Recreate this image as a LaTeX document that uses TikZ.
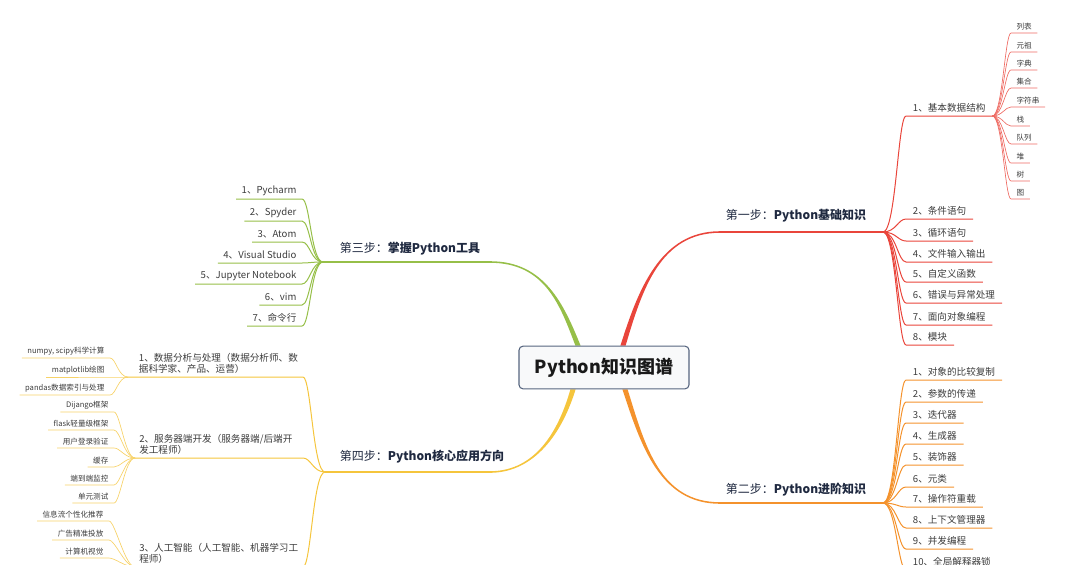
\documentclass[tikz,border=0pt]{standalone}
\usepackage{fontspec}
\setmainfont{Noto Sans CJK SC}
\usetikzlibrary{calc}
\definecolor{cR}{HTML}{E9453B}
\definecolor{cRl}{HTML}{EE6A62}
\definecolor{cO}{HTML}{F4922C}
\definecolor{cOl}{HTML}{F6A24A}
\definecolor{cG}{HTML}{96BF48}
\definecolor{cGl}{HTML}{A9CC66}
\definecolor{cY}{HTML}{F5C53C}
\definecolor{cYl}{HTML}{F7D268}
\definecolor{tx}{HTML}{3C3C3C}
\definecolor{nv}{HTML}{1F2940}
\definecolor{bx}{HTML}{56657F}
\newcommand\taper[6]{%
  \fill[#1] ($(#2)+(-2.6,0)$) .. controls ($(#3)+(-2,0)$) and ($(#4)+(0,-0.8*#6)$) .. ($(#5)+(0,-0.8*#6)$)
    -- ($(#5)+(0,0.8*#6)$) .. controls ($(#4)+(0,0.8*#6)$) and ($(#3)+(2,0)$) .. ($(#2)+(2.6,0)$) -- cycle;}
\begin{document}
\begin{tikzpicture}[x=0.75pt,y=-0.75pt,
  item/.style={inner xsep=5pt,inner ysep=2.5pt,font=\fontsize{7.2}{8.5}\selectfont,text=tx},
  leaf/.style={inner xsep=4pt,inner ysep=2pt,font=\fontsize{5.7}{6.5}\selectfont,text=tx},
  lvl/.style={inner sep=0pt,font=\fontsize{9}{10}\selectfont,text=nv},
  ctr/.style={draw=bx,line width=0.8pt,fill=white!96!bx,rounded corners=3pt,
    minimum width=127.5pt,minimum height=32pt,font=\fontsize{13.5}{15}\selectfont\bfseries,text=black!90},
  mainline/.style={line width=1.1pt},
  subline/.style={line width=0.75pt},
  leafline/.style={line width=0.5pt}]
\useasboundingbox (0,0) rectangle (1080,564);
\clip (0,0) rectangle (1080,564);

% ---- centre node (placed first for anchors, redrawn on top later)
\node[ctr,draw=none,fill=none,text opacity=0] (c0) at (604,367.5) {Python知识图谱};

% ---- main branch coordinates
\coordinate (S1) at ($(c0.north)+(19,0)$);
\coordinate (C1a) at (640,290); \coordinate (C1b) at (660,232);
\coordinate (E1) at (720,232); \coordinate (h1) at (883,232);
\coordinate (S2) at ($(c0.south)+(21,0)$);
\coordinate (C2a) at (643,446); \coordinate (C2b) at (660,503);
\coordinate (E2) at (720,503); \coordinate (h2) at (883,503);
\coordinate (S3) at ($(c0.north)+(-26,0)$);
\coordinate (C3a) at (562,305); \coordinate (C3b) at (545,262);
\coordinate (E3) at (490,262); \coordinate (h3) at (323,262);
\coordinate (S4) at ($(c0.south)+(-31,0)$);
\coordinate (C4a) at (558,440); \coordinate (C4b) at (530,472);
\coordinate (E4) at (490,472); \coordinate (h4) at (325,472);

\taper{cR}{S1}{C1a}{C1b}{E1}{1}
\taper{cO}{S2}{C2a}{C2b}{E2}{-1}
\taper{cG}{S3}{C3a}{C3b}{E3}{-1}
\taper{cY}{S4}{C4a}{C4b}{E4}{1}
\draw[cR,mainline] (E1) -- (h1);
\draw[cO,mainline] (E2) -- (h2);
\draw[cG,mainline] (E3) -- (h3);
\draw[cY,mainline] (E4) -- (h4);

% ---- level 1 labels
\node[lvl] (s1) at (796,216) {第一步：\textbf{Python基础知识}};
\node[lvl] (s2) at (796,490) {第二步：\textbf{Python进阶知识}};
\node[lvl] (s3) at (410,249) {第三步：\textbf{掌握Python工具}};
\node[lvl] (s4) at (422,457) {第四步：\textbf{Python核心应用方向}};

% ---- red branch items
\foreach \n/\y/\t in {1/116/{1、基本数据结构},2/219/{2、条件语句},3/241/{3、循环语句},4/262/{4、文件输入输出},
  5/282/{5、自定义函数},6/303/{6、错误与异常处理},7/325/{7、面向对象编程},8/345/{8、模块}}{
  \node[item,anchor=south west] (r\n) at (906,\y) {\t};
  \draw[cR,subline] (h1) .. controls +(13,0) and +(-8,0) .. (r\n.south west) -- (r\n.south east);
}
% red leaves
\foreach \n/\y/\t in {1/33/列表,2/52/元祖,3/70/字典,4/88/集合,5/107/字符串,6/126/栈,7/144/队列,8/163/堆,9/181/树,10/199/图}{
  \node[leaf,anchor=south west] (rl\n) at (1011,\y) {\t};
  \draw[cRl,leafline] (r1.south east) .. controls +(10,0) and +(-6,0) .. (rl\n.south west) -- (rl\n.south east);
}

% ---- orange branch items
\foreach \n/\y/\t in {1/380/{1、对象的比较复制},2/402/{2、参数的传递},3/423/{3、迭代器},4/444/{4、生成器},5/465/{5、装饰器},
  6/487/{6、元类},7/507/{7、操作符重载},8/528/{8、上下文管理器},9/549/{9、并发编程},10/570/{10、全局解释器锁}}{
  \node[item,anchor=south west] (o\n) at (906,\y) {\t};
  \draw[cO,subline] (h2) .. controls +(13,0) and +(-8,0) .. (o\n.south west) -- (o\n.south east);
}

% ---- green branch items
\foreach \n/\y/\t in {1/199/{1、Pycharm},2/221/{2、Spyder},3/242/{3、Atom},4/263/{4、Visual Studio},
  5/284/{5、Jupyter Notebook},6/305/{6、vim},7/326/{7、命令行}}{
  \node[item,inner xsep=4pt,anchor=south east] (g\n) at (302,\y) {\t};
  \draw[cG,subline] (h3) .. controls +(-12,0) and +(8,0) .. (g\n.south east) -- (g\n.south west);
}

% ---- yellow branch items
\coordinate (y1e) at (303,377);
\coordinate (y2e) at (303,458);
\coordinate (y3e) at (303,567);
\node[item,align=left,inner xsep=8pt,anchor=south west] (y1) at (128,377) {1、数据分析与处理（数据分析师、数\\据科学家、产品、运营）};
\node[item,align=left,inner xsep=3pt,anchor=south west] (y2) at (135,458) {2、服务器端开发（服务器端/后端开\\发工程师）};
\node[item,align=left,inner xsep=3pt,anchor=south west] (y3) at (135,567) {3、人工智能（人工智能、机器学习工\\程师）};
\draw[cY,subline] (h4) .. controls +(-12,0) and +(8,0) .. (y1e) -- (y1.south west);
\draw[cY,subline] (h4) .. controls +(-12,0) and +(8,0) .. (y2e) -- (y2.south west);
\draw[cY,subline] (h4) .. controls +(-12,0) and +(8,0) .. (y3e) -- (y3.south west);

% yellow leaves
\foreach \n/\y/\t in {1/358/{numpy, scipy科学计算},2/377/{matplotlib绘图},3/395/{pandas数据索引与处理}}{
  \node[leaf,anchor=south east] (ya\n) at (110,\y) {\t};
  \draw[cYl,leafline] (y1.south west) .. controls +(-10,0) and +(6,0) .. (ya\n.south east) -- (ya\n.south west);
}
\foreach \n/\y/\t in {1/412/{Dijango框架},2/430/{flask轻量级框架},3/448/{用户登录验证},4/467/{缓存},5/485/{端到端监控},6/503/{单元测试}}{
  \node[leaf,anchor=south east] (yb\n) at (114,\y) {\t};
  \draw[cYl,leafline] (y2.south west) .. controls +(-10,0) and +(6,0) .. (yb\n.south east) -- (yb\n.south west);
}
\foreach \n/\y/\t in {1/521/{信息流个性化推荐},2/540/{广告精准投放},3/558/{计算机视觉}}{
  \node[leaf,anchor=south east] (yc\n) at (109,\y) {\t};
  \draw[cYl,leafline] (y3.south west) .. controls +(-10,0) and +(6,0) .. (yc\n.south east) -- (yc\n.south west);
}

% ---- centre node on top
\node[ctr] (c) at (c0) {Python知识图谱};
\end{tikzpicture}
\end{document}
